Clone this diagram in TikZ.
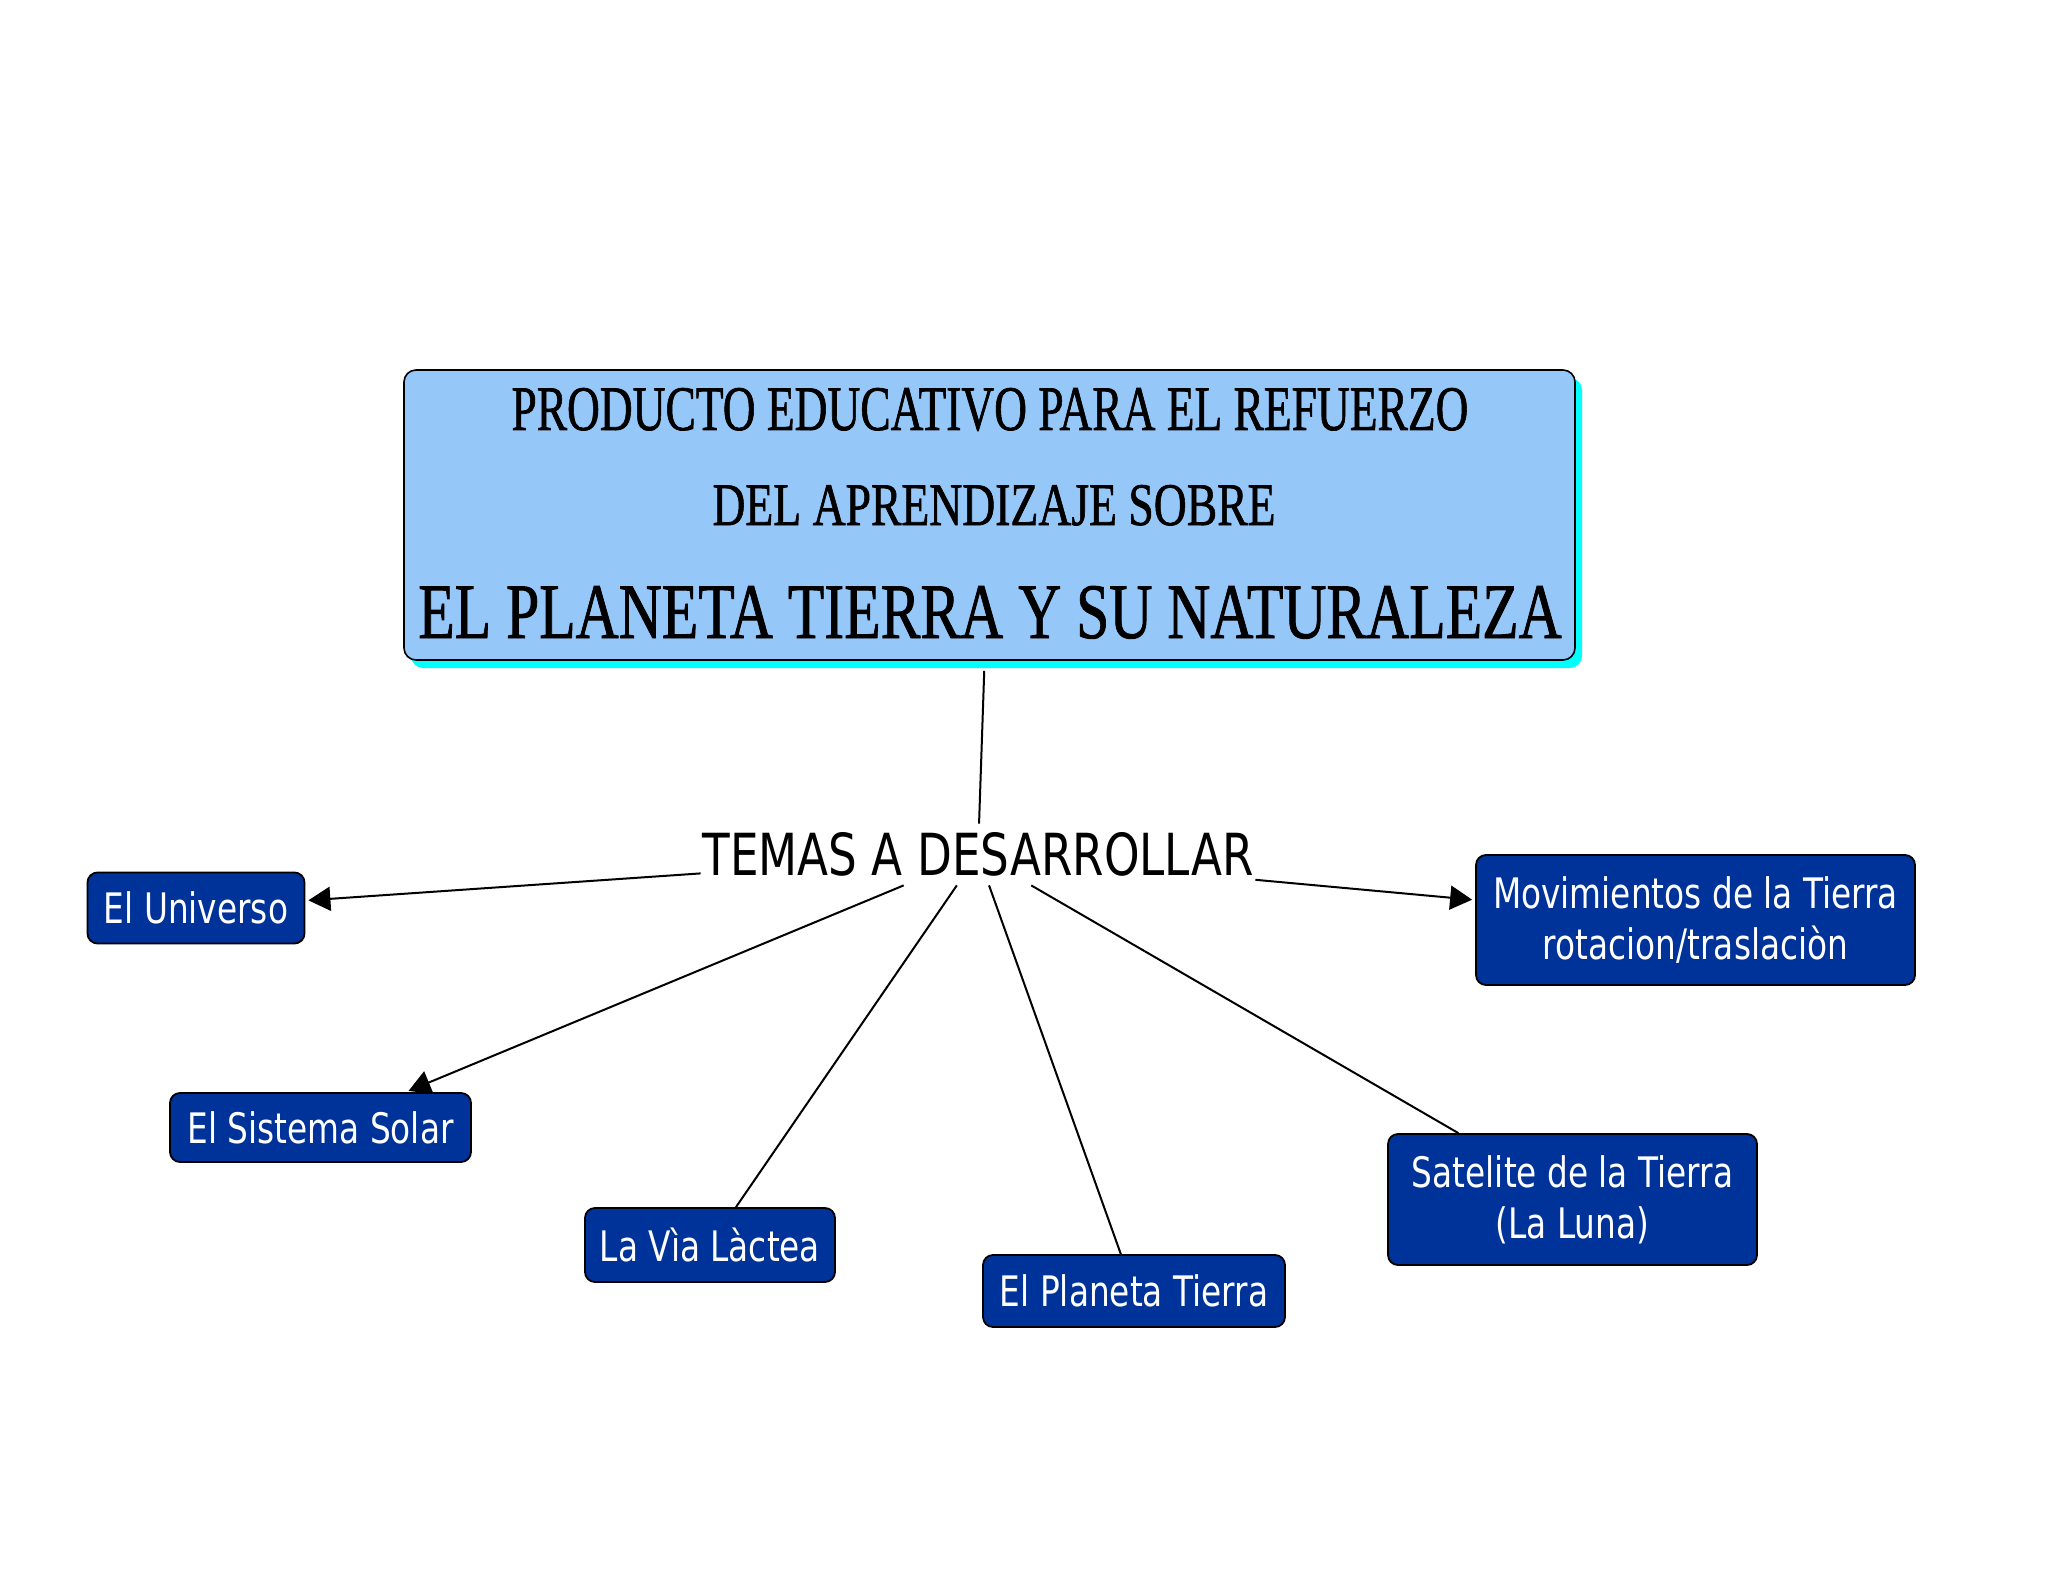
\documentclass[tikz,border=0pt]{standalone}
\usepackage{fontspec}
\usepackage{graphicx}
\usetikzlibrary{arrows.meta,shadows}
\setmainfont{Liberation Serif}
\newfontfamily\titlefont[FakeBold=1.2]{Liberation Serif}
\newfontfamily\condsans[FakeStretch=0.78]{DejaVu Sans}
\definecolor{titlefill}{RGB}{150,199,249}
\definecolor{topicfill}{RGB}{0,51,153}
\definecolor{shadowcyan}{RGB}{0,255,255}
\begin{document}
\begin{tikzpicture}[x=0.5pt,y=-0.5pt,
  topic/.style={draw=black, line width=0.9pt, rounded corners=5pt, fill=topicfill,
    text=white, font=\condsans\fontsize{21}{25.5}\selectfont, align=center, inner sep=0pt},
  link/.style={line width=1pt, draw=black},
  arr/.style={link, shorten >=1.5pt, -{Triangle[length=11pt,width=12pt]}},
  titleline/.style={anchor=base, inner sep=0pt, font=\titlefont}
]
\useasboundingbox[fill=white] (0,0) rectangle (2048,1582);

% title box
\node[draw=black, line width=0.8pt, fill=titlefill, rounded corners=6pt,
  minimum width=585.5pt, minimum height=145pt, inner sep=0pt,
  drop shadow={shadow xshift=3.5pt, shadow yshift=-4pt, fill=shadowcyan, opacity=1}]
  (title) at (989.5,515) {};
\node[titleline] (tl1) at (990,430) {\resizebox{478.5pt}{21pt}{PRODUCTO EDUCATIVO PARA EL REFUERZO}};
\node[titleline] (tl2) at (994,525) {\resizebox{281.5pt}{20pt}{DEL APRENDIZAJE SOBRE}};
\node[titleline] (tl3) at (990,638) {\resizebox{571.5pt}{26pt}{EL PLANETA TIERRA Y SU NATURALEZA}};

% central label
\node[font=\condsans\fontsize{29}{34}\selectfont, minimum width=277pt, minimum height=30.5pt,
  inner sep=0pt] (temas) at (978,854.5) {TEMAS A DESARROLLAR};

% topic boxes
\node[topic, minimum width=108.5pt, minimum height=35.5pt] (universo) at (196,908) {El Universo};
\node[topic, minimum width=150.5pt, minimum height=34.5pt] (solar) at (320.5,1127.5) {El Sistema Solar};
\node[topic, minimum width=125pt, minimum height=37pt] (lactea) at (710,1245) {La Vìa Làctea};
\node[topic, minimum width=151pt, minimum height=36pt] (planeta) at (1134,1291) {El Planeta Tierra};
\node[topic, minimum width=184.5pt, minimum height=65.5pt] (satelite) at (1572.5,1199.5) {Satelite de la Tierra\\(La Luna)};
\node[topic, minimum width=219.5pt, minimum height=65pt] (movimientos) at (1695.5,920) {Movimientos de la Tierra\\rotacion/traslaciòn};

% connectors
\draw[link, shorten <=5pt] (title) -- (temas);
\draw[arr] (temas) -- (universo);
\draw[arr] (temas) -- (solar);
\draw[link] (temas) -- (lactea);
\draw[link] (temas) -- (planeta);
\draw[link] (temas) -- (satelite);
\draw[arr] (temas) -- (movimientos);
\end{tikzpicture}
\end{document}
